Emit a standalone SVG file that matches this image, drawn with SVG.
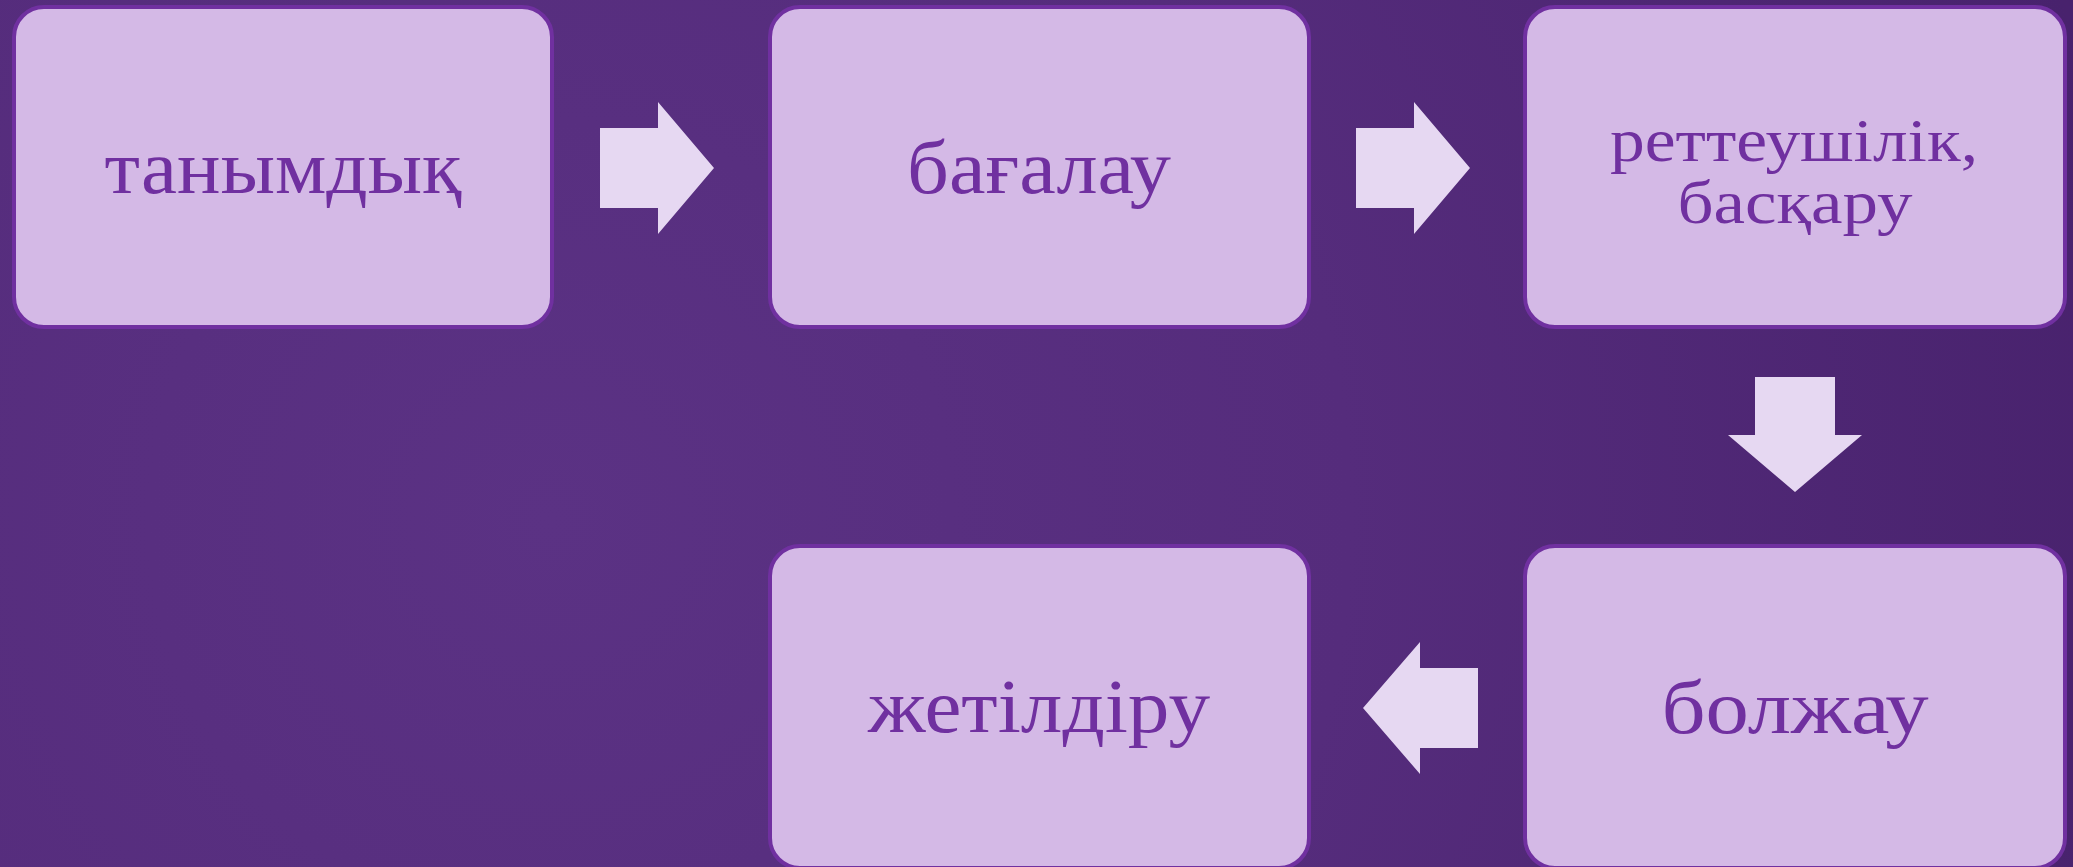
<svg xmlns="http://www.w3.org/2000/svg" width="2073" height="867" viewBox="0 0 2073 867">
  <defs>
    <radialGradient id="bg" cx="550" cy="520" r="1600" gradientUnits="userSpaceOnUse">
      <stop offset="0" stop-color="#5b3284"/>
      <stop offset="0.5" stop-color="#552c7c"/>
      <stop offset="1" stop-color="#48226d"/>
    </radialGradient>
    <style>
      .box { fill: #d4b9e6; stroke: #7030a0; stroke-width: 4; }
      .arr { fill: #e6d8f2; }
      .lbl { font-family: "Liberation Serif", "DejaVu Serif", serif; fill: #7030a0; text-anchor: middle; }
      .big { font-size: 76px; }
      .small { font-size: 62px; }
    </style>
  </defs>
  <rect x="0" y="0" width="2073" height="867" fill="url(#bg)"/>

  <g id="connectors">
    <polygon class="arr" points="600,128 658,128 658,102 714,168 658,234 658,208 600,208"/>
    <polygon class="arr" points="1356,128 1414,128 1414,102 1470,168 1414,234 1414,208 1356,208"/>
    <polygon class="arr" points="1755,377 1835,377 1835,435 1862,435 1795,492 1728,435 1755,435"/>
    <polygon class="arr" points="1478,668 1420,668 1420,642 1363,708 1420,774 1420,748 1478,748"/>
  </g>

  <g id="node-tanymdyk">
    <rect class="box" x="14" y="7" width="538" height="320" rx="30" ry="30"/>
    <text class="lbl big" x="283" y="193" textLength="357" lengthAdjust="spacingAndGlyphs">танымдық</text>
  </g>

  <g id="node-bagalau">
    <rect class="box" x="770" y="7" width="539" height="320" rx="30" ry="30"/>
    <text class="lbl big" x="1039" y="193" textLength="264" lengthAdjust="spacingAndGlyphs">бағалау</text>
  </g>

  <g id="node-retteushilik">
    <rect class="box" x="1525" y="7" width="540" height="320" rx="30" ry="30"/>
    <text class="lbl small" x="1794" y="161" textLength="368" lengthAdjust="spacingAndGlyphs">реттеушілік,</text>
    <text class="lbl small" x="1795" y="223" textLength="235" lengthAdjust="spacingAndGlyphs">басқару</text>
  </g>

  <g id="node-boljau">
    <rect class="box" x="1525" y="546" width="540" height="322" rx="30" ry="30"/>
    <text class="lbl big" x="1795" y="733" textLength="267" lengthAdjust="spacingAndGlyphs">болжау</text>
  </g>

  <g id="node-zhetildiru">
    <rect class="box" x="770" y="546" width="539" height="322" rx="30" ry="30"/>
    <text class="lbl big" x="1039" y="732" textLength="342" lengthAdjust="spacingAndGlyphs">жетілдіру</text>
  </g>
</svg>
